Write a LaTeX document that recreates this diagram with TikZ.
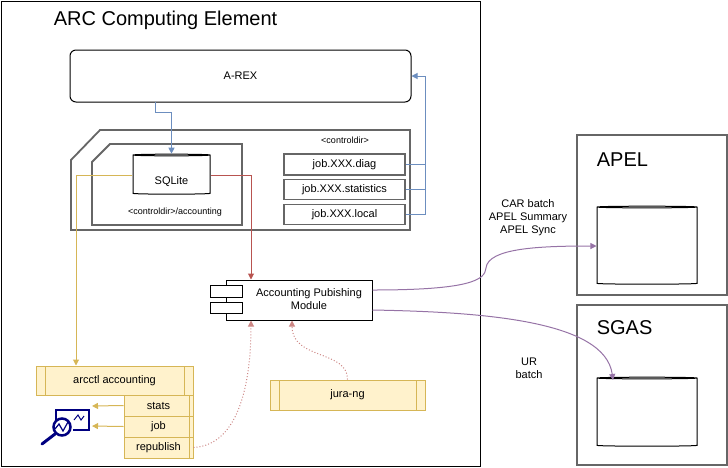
\documentclass[tikz,border=0pt]{standalone}
\usepackage{fontspec}
\setmainfont{Liberation Sans}
\usetikzlibrary{shapes.geometric,arrows.meta}
\definecolor{blu}{HTML}{6C8EBF}
\definecolor{yel}{HTML}{D6B656}
\definecolor{yfill}{HTML}{FFF2CC}
\definecolor{redd}{HTML}{B85450}
\definecolor{purp}{HTML}{9673A6}
\definecolor{gry}{HTML}{666666}
\begin{document}
\begin{tikzpicture}[x=1pt,y=-1pt,line width=1pt,
  lbl/.style={font=\fontsize{11}{13}\selectfont},
  sml/.style={font=\fontsize{9}{11}\selectfont},
  big/.style={font=\fontsize{20}{24}\selectfont},
  cyl/.style={draw,cylinder,shape border rotate=90,aspect=0.25,fill=white,line width=1pt},
  box/.style={draw=gry,line width=1.5pt,fill=white,inner sep=0},
  ybox/.style={draw=yel,fill=yfill,inner sep=0},
  arr/.style={-{Triangle[length=6pt,width=6pt]}},
  ]
\useasboundingbox (0,0) rectangle (728,467);
% CE box
\draw (1,1) rectangle (480,466);
\node[big,anchor=west] (ce) at (50,20) {ARC Computing Element};
% A-REX
\node[draw,rounded corners=6pt,minimum width=341pt,minimum height=52pt,lbl] (arex) at (240.5,76) {A-REX};
% controldir shapes
\draw[gry,line width=1.8pt,fill=white] (71,230) -- (71,160) -- (100,130) -- (410,130) -- (410,230) -- cycle;
\draw[gry,line width=1.8pt,fill=white] (92,225) -- (92,162) -- (110,144) -- (242,144) -- (242,225) -- cycle;
\node[sml] (cd) at (345,140) {<controldir>};
\node[sml] (cda) at (175,212) {<controldir>/accounting};
\node[cyl,minimum width=77pt,minimum height=40pt,lbl] (sql) at (171.5,175) {};
\node[lbl] (sqlt) at (171.5,182) {SQLite};
\node[box,minimum width=121pt,minimum height=21pt,lbl] (j1) at (344.5,164.5) {job.XXX.diag};
\node[box,minimum width=121pt,minimum height=20pt,lbl] (j2) at (344.5,189.5) {job.XXX.statistics};
\node[box,minimum width=121pt,minimum height=20pt,lbl] (j3) at (344.5,214.5) {job.XXX.local};
\coordinate (bj) at (425,76);
\draw[blu,arr] (j1.east) -- ++(20,0) |- (arex.east);
\draw[blu] (j2.east) -| (bj);
\draw[blu] (j3.east) -| (bj);
\draw[blu,arr] (155,102) -- (155,112) -- (171.5,112) -- (sql.top);
% APM
\node[draw,fill=white,minimum width=146pt,minimum height=40pt,inner sep=0] (apm) at (299,300) {};
\node[draw,fill=white,minimum width=32pt,minimum height=12pt,inner sep=0] (p1) at (226,291) {};
\node[draw,fill=white,minimum width=32pt,minimum height=11pt,inner sep=0] (p2) at (226,307.5) {};
\node[lbl,align=center] (apmt) at (309,299.5) {Accounting Pubishing\\Module};
\draw[redd,arr] (sql.east) -- (251,175) -- (apm.north -| 251,0);
% arcctl
\node[ybox,minimum width=157pt,minimum height=29pt,lbl] (arc) at (114.5,380.5) {arcctl accounting};
\draw[yel] (45,366) -- (45,395) (184,366) -- (184,395);
\node[ybox,minimum width=69pt,minimum height=21pt,lbl] (st) at (158.5,405.5) {stats};
\node[ybox,minimum width=69pt,minimum height=21pt,lbl] (jb) at (158.5,426.5) {job};
\node[ybox,minimum width=69pt,minimum height=21pt,lbl] (rp) at (158.5,447.5) {republish};
\draw[yel] (189,395) -- (189,458);
\draw[yel,arr] (sql.west) -- (76,175) -- (arc.north -| 76,0);
% jura
\node[ybox,minimum width=155pt,minimum height=30pt,lbl] (jura) at (347.5,395) {jura-ng};
\draw[yel] (279,380) -- (279,410) (416,380) -- (416,410);
% icon
\draw[blue!50!black,line width=2pt] (56,421) -- (56,410) -- (89,410) -- (89,430) -- (73,430);
\draw[blue!50!black,line width=1pt] (74,420) -- (78,415) -- (81,420) -- (84,416);
\draw[blue!50!black,line width=2.5pt] (62,427) circle (8.5pt);
\draw[blue!50!black,line width=1.2pt] (55,429) -- (59,424) -- (63,431) -- (68,422);
\draw[blue!50!black,line width=3pt,line cap=round] (55,434) -- (42,444);
\draw[yel,arr] (st.west) -- (92,406);
\draw[yel,arr] (jb.west) -- (92,426);
% dotted red
\draw[redd!70,dotted,arr] (rp.east) .. controls (240,445) and (251,380) .. (apm.south -| 251,0);
\draw[redd!70,dotted,arr] (jura.north) .. controls (348,350) and (292,360) .. (apm.south -| 292,0);
% APEL
\draw[gry,line width=1.5pt] (577,135) rectangle (727,295);
\node[big,anchor=west] (apel) at (593,160) {APEL};
\node[cyl,minimum width=100pt,minimum height=78pt] (capel) at (647,246) {};
% SGAS
\draw[gry,line width=1.5pt] (577,305) rectangle (727,465);
\node[big,anchor=west] (sgas) at (593,328) {SGAS};
\node[cyl,minimum width=100pt,minimum height=69pt] (csgas) at (647,412.5) {};
% purple
\draw[purp,arr] (apm.east |- 0,290) .. controls (470,290) and (485,280) .. (486,268) .. controls (488,248) and (540,246) .. (capel.west);
\draw[purp,arr] (apm.east |- 0,310) .. controls (480,312) and (605,320) .. (613,380);
\node[lbl,align=center] (t1) at (528,218) {CAR batch\\APEL Summary\\APEL Sync};
\node[lbl,align=center] (t2) at (529,368) {UR\\batch};
\end{tikzpicture}
\end{document}
